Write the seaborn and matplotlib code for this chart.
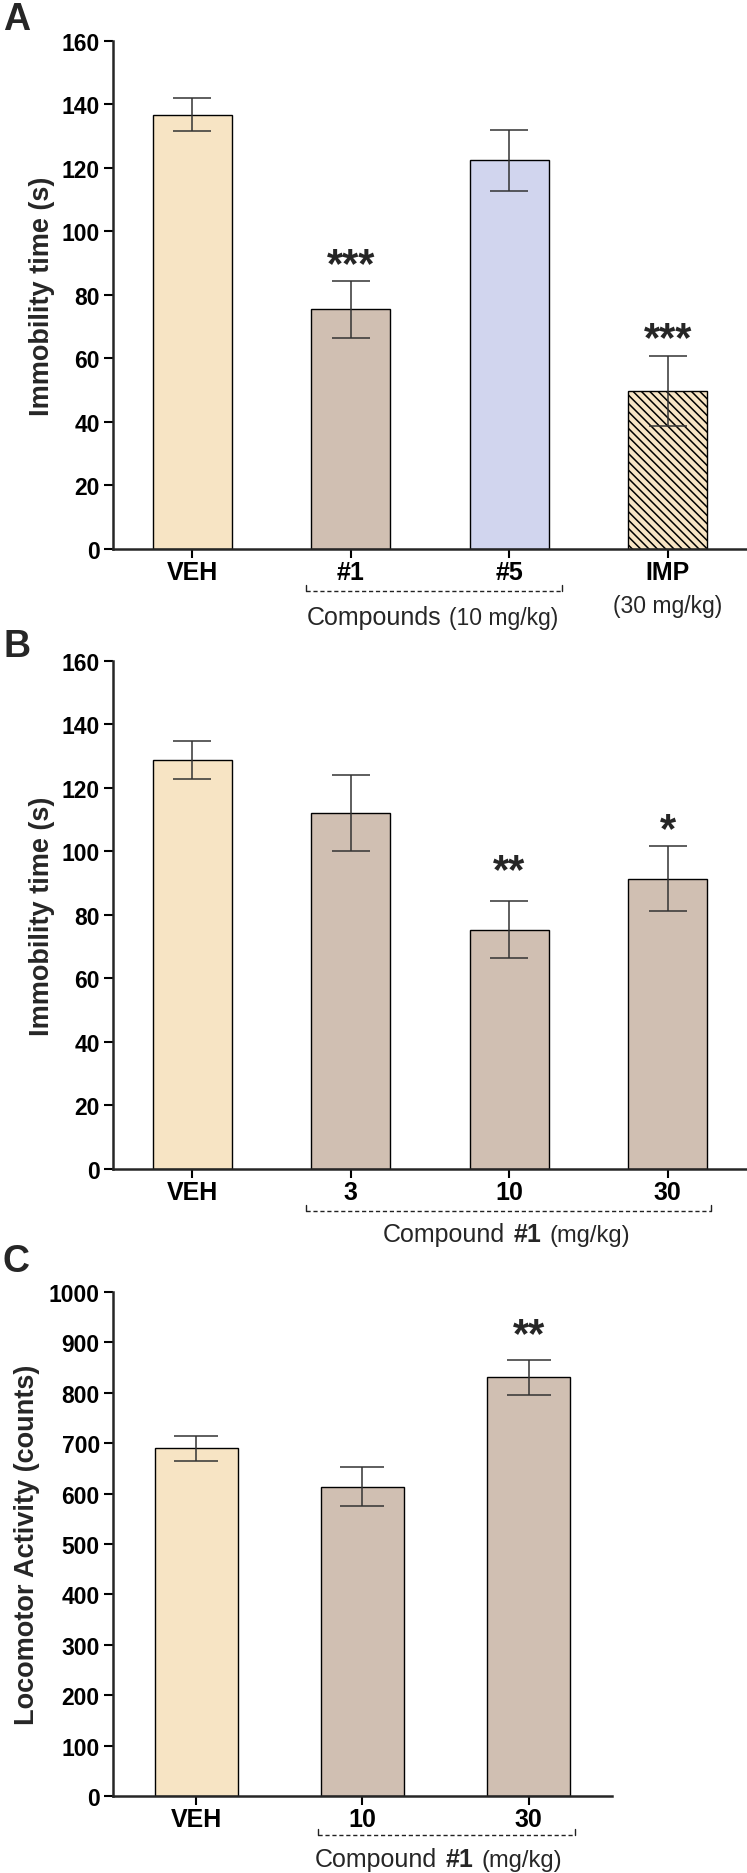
# Forced swim / locomotor activity bar charts (panels A, B, C)

import numpy as np
import matplotlib
matplotlib.use("Agg")
import matplotlib.pyplot as plt
import matplotlib.transforms as mtransforms
import seaborn as sns

sns.set_style("ticks")
plt.rcParams['font.family'] = ['Liberation Sans', 'DejaVu Sans']
plt.rcParams['hatch.linewidth'] = 1.1

# -------------------------
# 1. Data
# -------------------------
a_groups = ['VEH', '#1', '#5', 'IMP']
a_mean = [136.8, 75.5, 122.4, 49.8]
a_sem = [5.2, 8.9, 9.7, 11.0]
a_stars = ['', '***', '', '***']
a_star_y = [np.nan, 93.2, np.nan, 69.8]

b_groups = ['VEH', '3', '10', '30']
b_mean = [128.7, 112.0, 75.4, 91.4]
b_sem = [6.0, 12.0, 8.9, 10.2]
b_stars = ['', '', '**', '*']
b_star_y = [np.nan, np.nan, 97.7, 110.4]

c_groups = ['VEH', '10', '30']
c_mean = [690, 614, 831]
c_sem = [25, 39, 35]
c_stars = ['', '', '**']
c_star_y = [np.nan, np.nan, 939]

VEH_COL = '#F7E4C4'
CMPD_COL = '#D0BFB2'
C5_COL = '#D1D5EE'

a_colors = [VEH_COL, CMPD_COL, C5_COL, VEH_COL]
b_colors = [VEH_COL, CMPD_COL, CMPD_COL, CMPD_COL]
c_colors = [VEH_COL, CMPD_COL, CMPD_COL]


def draw_panel(ax, groups, mean, sem, colors, stars, star_y, ymax, ystep,
               ylabel, capsize, label_x):
    sns.barplot(x=groups, y=mean, hue=groups, palette=dict(zip(groups, colors)),
                saturation=1, width=0.5, edgecolor='black', linewidth=1.0,
                errorbar=None, legend=False, ax=ax, zorder=2)
    ax.errorbar(range(len(groups)), mean, yerr=sem, fmt='none', ecolor='#333333',
                elinewidth=1.1, capsize=capsize, capthick=1.1, zorder=5)
    for i, s in enumerate(stars):
        if s:
            ax.annotate(s, (i, star_y[i]), xytext=(0, -16.5), textcoords='offset points',
                        ha='center', va='baseline', fontsize=30, fontweight='bold')
    ax.set_xlim(-0.5, len(groups) - 0.5)
    ax.set_ylim(0, ymax)
    ax.set_yticks(np.arange(0, ymax + 1, ystep))
    sns.despine(ax=ax)
    for side in ['left', 'bottom']:
        ax.spines[side].set_linewidth(1.8)
    ax.tick_params(axis='both', width=1.5, length=6.5, colors='black')
    ax.tick_params(axis='x', labelsize=18, pad=1.5)
    ax.tick_params(axis='y', labelsize=16.5, pad=3)
    for lab in ax.get_xticklabels() + ax.get_yticklabels():
        lab.set_fontweight('bold')
    ax.set_xlabel('')
    ax.set_ylabel(ylabel, fontsize=19.5, fontweight='bold')
    ax.yaxis.set_label_coords(label_x, 0.5)
    ax.patch.set_alpha(0)


def bracket(ax, x0, x1, y, h=0.011):
    trans = mtransforms.blended_transform_factory(ax.transData, ax.transAxes)
    ax.plot([x0, x1], [y, y], transform=trans, color='#222222', lw=1.0,
            ls=(0, (3, 2)), clip_on=False)
    for x in (x0, x1):
        ax.plot([x, x], [y, y + h], transform=trans, color='#222222', lw=1.0,
                clip_on=False)


def label_run(ax, x, y, parts, gap=6):
    trans = mtransforms.blended_transform_factory(ax.transData, ax.transAxes)
    prev = None
    for text, size, weight in parts:
        if prev is None:
            prev = ax.text(x, y, text, transform=trans, ha='left', va='baseline',
                           fontsize=size, fontweight=weight)
        else:
            prev = ax.annotate(text, xy=(1, 0), xycoords=prev, xytext=(gap, 0),
                               textcoords='offset points', ha='left', va='bottom',
                               fontsize=size, fontweight=weight)


fig = plt.figure(figsize=(7.47, 18.74), dpi=100)
ax_a = fig.add_axes([0.15127, 0.70651, 0.84873, 0.27108])
ax_b = fig.add_axes([0.15127, 0.37567, 0.84873, 0.27108])
ax_c = fig.add_axes([0.15127, 0.04109, 0.66800, 0.26894])

# -------------------------
# 2. Panel A
# -------------------------
draw_panel(ax_a, a_groups, a_mean, a_sem, a_colors, a_stars, a_star_y,
           160, 20, 'Immobility time (s)', 14, -0.092)
ax_a.patches[3].set_hatch('\\\\\\\\')
bracket(ax_a, 0.72, 2.33, -0.0827)
label_run(ax_a, 0.72, -0.1476, [('Compounds', 18, 'normal'), ('(10 mg/kg)', 16.5, 'normal')])
ax_a.text(3, -0.124, '(30 mg/kg)', transform=mtransforms.blended_transform_factory(
    ax_a.transData, ax_a.transAxes), ha='center', va='baseline', fontsize=16.5)

# -------------------------
# 3. Panel B
# -------------------------
draw_panel(ax_b, b_groups, b_mean, b_sem, b_colors, b_stars, b_star_y,
           160, 20, 'Immobility time (s)', 14, -0.092)
bracket(ax_b, 0.72, 3.27, -0.0827)
label_run(ax_b, 1.203, -0.1427, [('Compound', 18, 'normal'), ('#1', 18, 'bold'),
                                  ('(mg/kg)', 17, 'normal')])

# -------------------------
# 4. Panel C
# -------------------------
draw_panel(ax_c, c_groups, c_mean, c_sem, c_colors, c_stars, c_star_y,
           1000, 100, 'Locomotor Activity (counts)', 15.5, -0.146)
bracket(ax_c, 0.73, 2.28, -0.0774)
label_run(ax_c, 0.715, -0.139, [('Compound', 18, 'normal'), ('#1', 18, 'bold'),
                                 ('(mg/kg)', 17, 'normal')])

for letter, base in [('A', 30), ('B', 657), ('C', 1272)]:
    fig.text(3 / 747, 1 - base / 1874, letter, fontsize=27, fontweight='bold',
             va='baseline', ha='left')

fig.savefig('out.png', dpi=100, facecolor='white')
